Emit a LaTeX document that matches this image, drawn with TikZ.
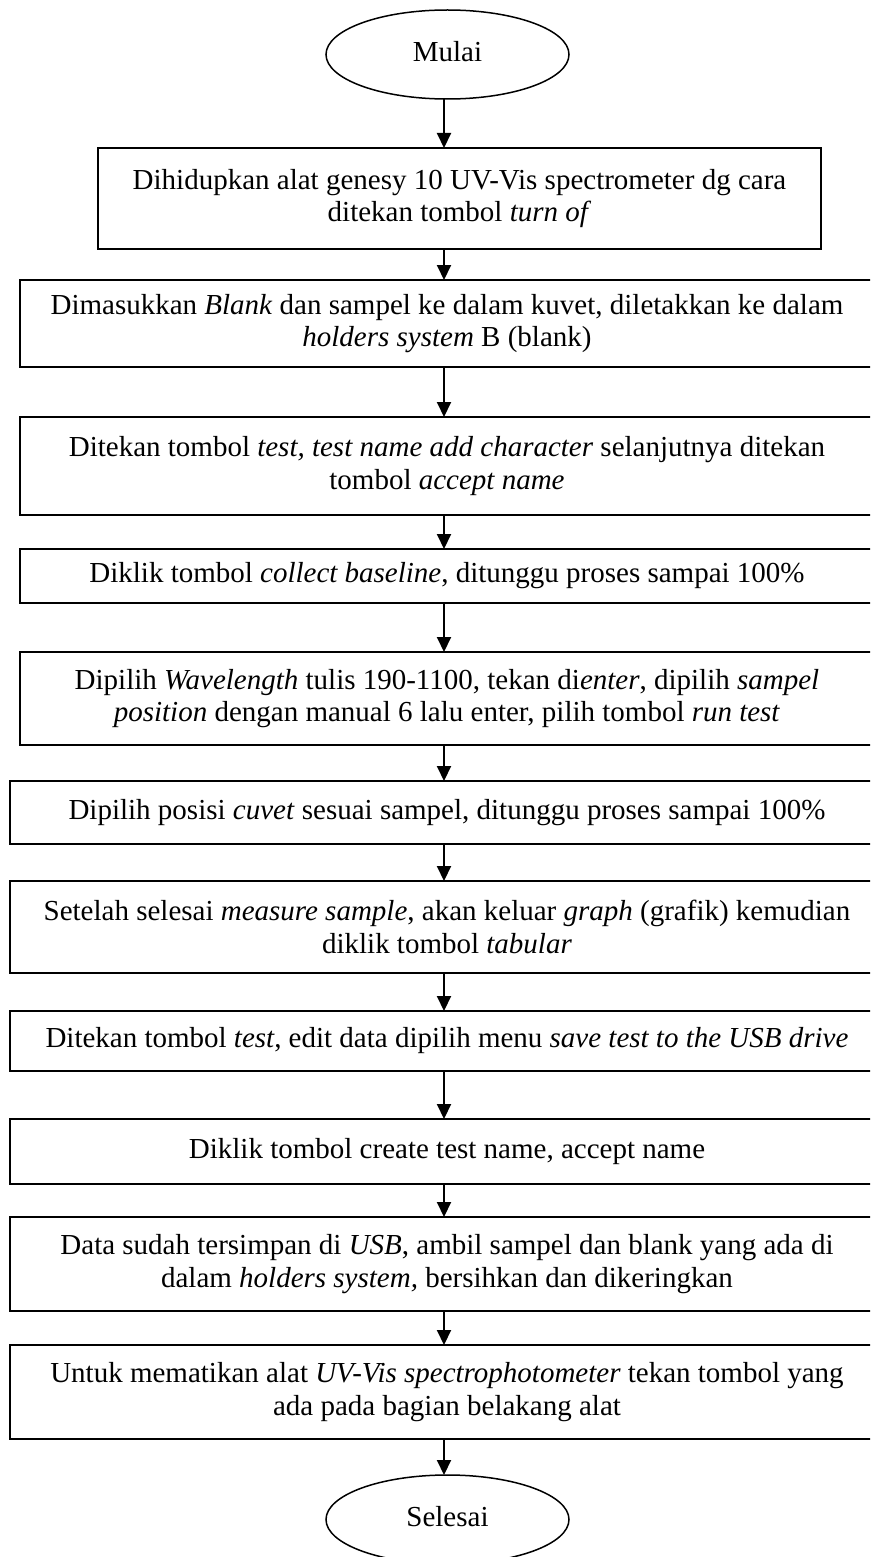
\documentclass[tikz,border=0pt]{standalone}
\usepackage{fontspec}
\setmainfont{Liberation Serif}
\usetikzlibrary{shapes.geometric,arrows.meta}
\tikzset{
  box/.style={draw, line width=1.6pt, rectangle, inner sep=0pt, outer sep=0pt, align=center,
    font=\fontsize{29}{32.5}\selectfont},
  term/.style={draw, line width=1.5pt, ellipse, inner sep=0pt, outer sep=0pt,
    minimum width=243pt, minimum height=89pt, font=\fontsize{29}{32.5}\selectfont},
  arr/.style={line width=2pt, -{Triangle[width=14pt,length=15pt]}}
}
\begin{document}
\begin{tikzpicture}[x=1pt,y=-1pt]
\useasboundingbox (0,0) rectangle (870,1557);
\clip (0,0) rectangle (870,1557);
\coordinate (ax) at (444,0);
\node[term] (mulai) at (447.5,54.5) {\raisebox{6pt}{Mulai}};
\node[box, minimum width=723pt, minimum height=101pt] (b1) at (459.5,198.5)
  {Dihidupkan alat genesy 10 UV-Vis spectrometer dg cara\\ ditekan tombol \textit{turn of}};
\node[box, minimum width=854pt, minimum height=87pt] (b2) at (447,323.5)
  {Dimasukkan \textit{Blank} dan sampel ke dalam kuvet, diletakkan ke dalam\\ \textit{holders system} B (blank)};
\node[box, minimum width=854pt, minimum height=98pt] (b3) at (447,466)
  {Ditekan tombol \textit{test, test name add character} selanjutnya ditekan\\ tombol \textit{accept name}};
\node[box, minimum width=854pt, minimum height=54pt] (b4) at (447,576)
  {Diklik tombol \textit{collect baseline}, ditunggu proses sampai 100\%};
\node[box, minimum width=854pt, minimum height=93pt] (b5) at (447,698.5)
  {Dipilih \textit{Wavelength} tulis 190-1100, tekan di\textit{enter}, dipilih \textit{sampel}\\ \textit{position} dengan manual 6 lalu enter, pilih tombol \textit{run test}};
\node[box, minimum width=874pt, minimum height=63pt] (b6) at (447,812.5)
  {Dipilih posisi \textit{cuvet} sesuai sampel, ditunggu proses sampai 100\%};
\node[box, minimum width=874pt, minimum height=92pt] (b7) at (447,927)
  {Setelah selesai \textit{measure sample}, akan keluar \textit{graph} (grafik) kemudian\\ diklik tombol \textit{tabular}};
\node[box, minimum width=874pt, minimum height=60pt] (b8) at (447,1041)
  {Ditekan tombol \textit{test}, edit data dipilih menu \textit{save test to the USB drive}};
\node[box, minimum width=874pt, minimum height=65pt] (b9) at (447,1151.5)
  {Diklik tombol create test name, accept name};
\node[box, minimum width=874pt, minimum height=94pt] (b10) at (447,1264)
  {Data sudah tersimpan di \textit{USB}, ambil sampel dan blank yang ada di\\ dalam \textit{holders system,} bersihkan dan dikeringkan};
\node[box, minimum width=874pt, minimum height=94pt] (b11) at (447,1392)
  {Untuk mematikan alat \textit{UV-Vis spectrophotometer} tekan tombol yang\\ ada pada bagian belakang alat};
\node[term] (selesai) at (447.5,1519.5) {\raisebox{6pt}{Selesai}};
\draw[arr] (mulai.south -| ax) -- (b1.north -| ax);
\draw[arr] (b1.south -| ax) -- (b2.north -| ax);
\draw[arr] (b2.south -| ax) -- (b3.north -| ax);
\draw[arr] (b3.south -| ax) -- (b4.north -| ax);
\draw[arr] (b4.south -| ax) -- (b5.north -| ax);
\draw[arr] (b5.south -| ax) -- (b6.north -| ax);
\draw[arr] (b6.south -| ax) -- (b7.north -| ax);
\draw[arr] (b7.south -| ax) -- (b8.north -| ax);
\draw[arr] (b8.south -| ax) -- (b9.north -| ax);
\draw[arr] (b9.south -| ax) -- (b10.north -| ax);
\draw[arr] (b10.south -| ax) -- (b11.north -| ax);
\draw[arr] (b11.south -| ax) -- (selesai.north -| ax);
\end{tikzpicture}
\end{document}
